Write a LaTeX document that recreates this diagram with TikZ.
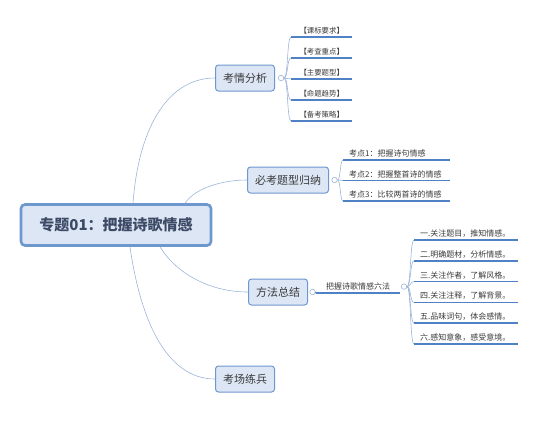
\documentclass[tikz,border=0pt]{standalone}
\usepackage{fontspec}
\newfontfamily\cjk{Noto Sans CJK SC}
\usetikzlibrary{positioning}
\definecolor{mline}{HTML}{4F81C5}
\definecolor{mlink}{HTML}{9DB4D8}
\definecolor{mfill}{HTML}{DCE6F4}
\definecolor{mbord}{HTML}{6E97CE}
\definecolor{mtext}{HTML}{3A3A3A}
\definecolor{mroot}{HTML}{3C4A66}

\begin{document}
\begin{tikzpicture}[x=1pt,y=-1pt,
  font=\cjk,
  root/.style={draw=mbord,fill=mfill,line width=2.6pt,rounded corners=4pt,
               minimum width=190pt,minimum height=41pt,text=mroot,
               font=\cjk\bfseries\fontsize{15}{18}\selectfont},
  topic/.style={draw=mbord,fill=mfill,line width=1pt,rounded corners=3pt,
                minimum height=26pt,inner xsep=7.5pt,text=mtext,
                font=\cjk\fontsize{11}{13}\selectfont},
  knob/.style={circle,draw=mlink,fill=white,line width=0.6pt,inner sep=0pt,
               minimum size=5.5pt},
  leaf/.style={anchor=south west,inner xsep=6pt,inner ysep=2.5pt,text=mtext,
               font=\cjk\fontsize{8}{9.5}\selectfont},
  uline/.style={mline,line width=1.5pt},
  link/.style={mlink,line width=0.6pt}]
  \useasboundingbox (0,0) rectangle (553,421);
  % main topic and branches
  \node[root] (root) at (116,225) {专题01：把握诗歌情感};
  \node[topic] (t1) at (245,78) {考情分析};
  \node[topic] (t2) at (288,180) {必考题型归纳};
  \node[topic] (t3) at (278,292) {方法总结};
  \node[topic] (t4) at (245,379) {考场练兵};
  \node[knob,right=3pt of t1] (k1) {};
  \node[knob,right=2.5pt of t2] (k2) {};
  \node[knob,right=1.5pt of t3] (k3) {};
  \draw[link] ([xshift=17pt]root.north) .. controls +(5,-70) and +(-50,0) .. (t1.west);
  \draw[link] ([xshift=69pt]root.north) .. controls +(10,-15) and +(-25,0) .. (t2.west);
  \draw[link] ([xshift=44pt]root.south) .. controls +(15,25) and +(-40,0) .. (t3.west);
  \draw[link] ([xshift=14pt]root.south) .. controls +(10,70) and +(-50,0) .. (t4.west);
  % leaves
  \foreach \txt [count=\i] in {【课标要求】,【考查重点】,【主要题型】,【命题趋势】,【备考策略】}
     \node[leaf,text width=49pt,align=center,font=\cjk\fontsize{7.4}{9}\selectfont]
       (q\i) at (291,{16+21*\i}) {\txt};
  \foreach \txt [count=\i] in {考点1：把握诗句情感,考点2：把握整首诗的情感,考点3：比较两首诗的情感}
     \node[leaf,text width=95pt,align=left] (b\i) at (343,{139.5+20.5*\i}) {\txt};
  \node[leaf,text width=72pt,align=center] (fa) at (316,293) {把握诗歌情感六法};
  \node[knob,right=0.5pt of fa] (k4) {};
  \foreach \txt [count=\i] in {一.关注题目，推知情感。,二.明确题材，分析情感。,三.关注作者，了解风格。,
                               四.关注注释，了解背景。,五.品味词句，体会感情。,六.感知意象，感受意境。}
     \node[leaf,text width=92pt,align=left] (m\i) at (414,{219.2+20.8*\i}) {\txt};
  \foreach \i in {1,...,5}
     \draw[link] (k1.east) .. controls +(4pt,0) and +(-4pt,0) .. (q\i.south west);
  \foreach \i in {1,2,3}
     \draw[link] (k2.east) .. controls +(3pt,0) and +(-3pt,0) .. (b\i.south west);
  \foreach \i in {1,...,6}
     \draw[link] (k4.east) .. controls +(4pt,0) and +(-4pt,0) .. (m\i.south west);
  \draw[uline] (k3.east) -- (fa.south west);
  \foreach \n in {q1,q2,q3,q4,q5,b1,b2,b3,fa,m1,m2,m3,m4,m5,m6}
     \draw[uline] (\n.south west) -- (\n.south east);
\end{tikzpicture}
\end{document}
